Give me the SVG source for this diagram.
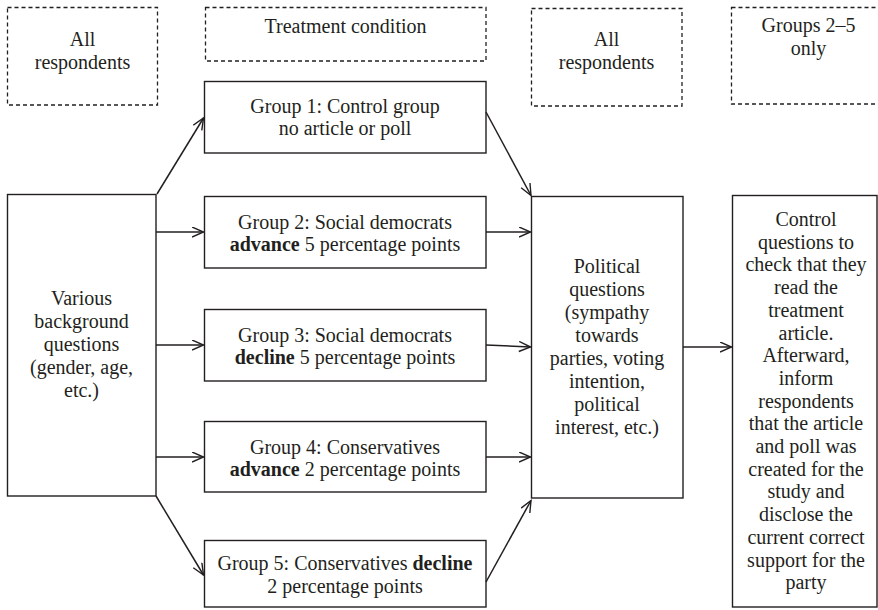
<svg xmlns="http://www.w3.org/2000/svg" width="878" height="610" viewBox="0 0 878 610">
<defs>
<marker id="arr" markerUnits="userSpaceOnUse" markerWidth="14" markerHeight="12" refX="12" refY="5.5" orient="auto">
<path d="M0.5,0.5 L12,5.5 L0.5,10.5" fill="none" stroke="#231f20" stroke-width="1.4"/>
</marker>
<style>
text{font-family:"Liberation Serif","Times New Roman",serif;font-size:20px;fill:#231f20;text-anchor:middle}
.box{fill:#fff;stroke:#231f20;stroke-width:1.4}
.dash{fill:none;stroke:#231f20;stroke-width:1.3;stroke-dasharray:4 3}
.conn line{stroke:#231f20;stroke-width:1.5;marker-end:url(#arr)}
.b{font-weight:bold}
</style>
</defs>
<rect width="878" height="610" fill="#fff"/>
<g id="hdr1"><rect class="dash" x="7.5" y="7.5" width="150" height="97.5"/><text x="82.5" y="46">All</text><text x="82.5" y="69">respondents</text></g>
<g id="hdr2"><rect class="dash" x="205.5" y="7.5" width="280.5" height="53.5"/><text x="345.5" y="33">Treatment condition</text></g>
<g id="hdr3"><rect class="dash" x="531.5" y="8.5" width="150.5" height="97.5"/><text x="606.5" y="46">All</text><text x="606.5" y="69">respondents</text></g>
<g id="hdr4"><rect class="dash" x="731.5" y="7.5" width="160" height="96.5"/><text x="808.5" y="32">Groups 2–5</text><text x="808.5" y="55">only</text></g>
<g id="various"><rect class="box" x="7.5" y="194.5" width="148.5" height="301.5"/>
<text x="81.5" y="305">Various</text><text x="81.5" y="328">background</text><text x="81.5" y="351">questions</text><text x="81.5" y="374">(gender, age,</text><text x="81.5" y="397">etc.)</text></g>
<g id="g1"><rect class="box" x="204.5" y="81.5" width="281.5" height="71.5"/><text x="345" y="112.5">Group 1: Control group</text><text x="345" y="135">no article or poll</text></g>
<g id="g2"><rect class="box" x="204.5" y="196.5" width="281.5" height="71.5"/><text x="345" y="228.5">Group 2: Social democrats</text><text x="345" y="251"><tspan class="b">advance</tspan> 5 percentage points</text></g>
<g id="g3"><rect class="box" x="204.5" y="309.5" width="281.5" height="71.5"/><text x="345" y="341.5">Group 3: Social democrats</text><text x="345" y="364"><tspan class="b">decline</tspan> 5 percentage points</text></g>
<g id="g4"><rect class="box" x="204.5" y="421.5" width="281.5" height="70.5"/><text x="345" y="453.5">Group 4: Conservatives</text><text x="345" y="476"><tspan class="b">advance</tspan> 2 percentage points</text></g>
<g id="g5"><rect class="box" x="204.5" y="540.5" width="281.5" height="66.5"/><text x="345" y="570">Group 5: Conservatives <tspan class="b">decline</tspan></text><text x="345" y="592.5">2 percentage points</text></g>
<g id="political"><rect class="box" x="531.5" y="196.5" width="151.5" height="301.5"/>
<text x="607" y="273">Political</text><text x="607" y="296">questions</text><text x="607" y="319">(sympathy</text><text x="607" y="342">towards</text><text x="607" y="365">parties, voting</text><text x="607" y="388">intention,</text><text x="607" y="411">political</text><text x="607" y="434">interest, etc.)</text></g>
<g id="control"><rect class="box" x="732.5" y="195.5" width="144.5" height="411.5"/>
<text x="806" y="226">Control</text><text x="806" y="248.7">questions to</text><text x="806" y="271.4">check that they</text><text x="806" y="294.1">read the</text><text x="806" y="316.8">treatment</text><text x="806" y="339.5">article.</text><text x="806" y="362.2">Afterward,</text><text x="806" y="384.9">inform</text><text x="806" y="407.6">respondents</text><text x="806" y="430.3">that the article</text><text x="806" y="453">and poll was</text><text x="806" y="475.7">created for the</text><text x="806" y="498.4">study and</text><text x="806" y="521.1">disclose the</text><text x="806" y="543.8">current correct</text><text x="806" y="566.5">support for the</text><text x="806" y="589.2">party</text></g>
<g id="connectors" class="conn">
<line x1="157" y1="194" x2="203.5" y2="118"/>
<line x1="156" y1="232" x2="203.5" y2="232"/>
<line x1="156" y1="345" x2="203.5" y2="345"/>
<line x1="156" y1="457" x2="203.5" y2="457"/>
<line x1="156" y1="496" x2="203.5" y2="575"/>
<line x1="486" y1="112" x2="531" y2="195.5"/>
<line x1="486" y1="232" x2="530.5" y2="232"/>
<line x1="486" y1="345" x2="530.5" y2="347"/>
<line x1="486" y1="457" x2="530.5" y2="457"/>
<line x1="486" y1="582" x2="531" y2="500.5"/>
<line x1="683" y1="347" x2="731.5" y2="347"/>
</g>
</svg>
